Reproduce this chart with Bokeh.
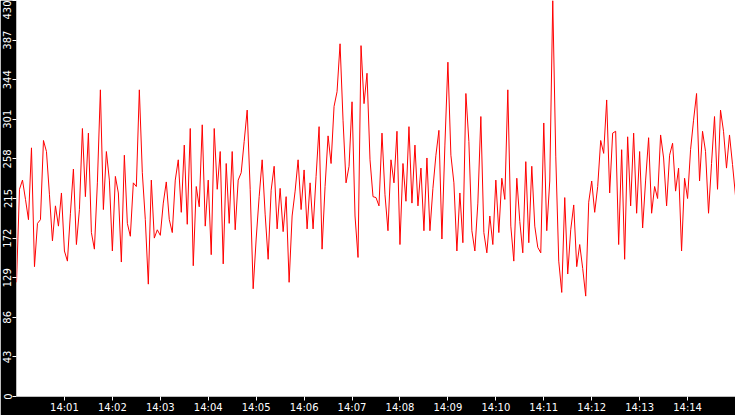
import pandas as pd
from bokeh.plotting import figure
from bokeh.models import ColumnDataSource, Range1d, FixedTicker, DatetimeTickFormatter
from bokeh.embed import file_html
from bokeh.resources import INLINE

# values, one every 3.75 s from 14:00:00 to 14:15:00
values = [
    124, 225, 235, 214, 192, 270, 141, 188, 192, 278, 266, 219, 169, 207, 185, 221,
    158, 147, 199, 247, 165, 203, 291, 217, 286, 178, 160, 232, 333, 203, 266, 235,
    158, 239, 221, 146, 262, 188, 174, 232,
    228, 333, 243, 192, 122, 235, 172, 181, 175, 210, 233, 192, 178, 235, 257, 200,
    273, 187, 291, 142, 228, 206, 295, 185, 235, 154, 291, 225, 266, 144, 253, 188,
    266, 181, 235, 243, 277, 311, 225, 117,
    171, 217, 257, 198, 149, 224, 250, 182, 226, 179, 217, 124, 196, 223, 257, 203,
    246, 182, 232, 182, 239, 293, 160, 228, 283, 253, 315, 331, 383, 300, 232, 250,
    320, 196, 151, 381, 318, 351, 257, 217,
    216, 207, 286, 219, 180, 257, 232, 288, 165, 253, 212, 293, 210, 273, 207, 248,
    180, 259, 180, 226, 262, 289, 171, 273, 363, 262, 232, 158, 221, 167, 329, 277,
    180, 158, 210, 304, 178, 156, 196, 165,
    235, 178, 237, 214, 333, 185, 147, 237, 190, 156, 255, 167, 250, 185, 162, 156,
    297, 180, 234, 430, 261, 147, 113, 216, 133, 181, 208, 141, 165, 139, 109, 211,
    234, 200, 228, 278, 264, 322, 221, 286,
    288, 165, 268, 149, 282, 207, 286, 199, 266, 183, 235, 281, 199, 228, 215, 284,
    259, 207, 262, 275, 223, 248, 158, 237, 215, 268, 300, 329, 234, 288, 266, 199,
    253, 304, 225, 311, 288, 248, 284, 252, 218,
]
times = pd.date_range("2024-01-01 14:00:00", periods=len(values), freq="3750ms")

y_ticks = [0, 43, 86, 129, 172, 215, 258, 301, 344, 387, 430]
x_ticks = pd.date_range("2024-01-01 14:01:00", "2024-01-01 14:14:00", freq="1min")

source = ColumnDataSource(data=dict(time=times, value=values))

p = figure(width=735, height=415,
           x_axis_type="datetime",
           x_range=Range1d(times[0], times[-1]),
           y_range=Range1d(0, 430),
           output_backend="svg",
           toolbar_location=None,
           min_border_left=0, min_border_right=0,
           min_border_top=0, min_border_bottom=0)

p.line('time', 'value', source=source, color='red', line_width=1)

p.background_fill_color = "white"
p.border_fill_color = "black"
p.outline_line_color = None
p.grid.visible = False

p.yaxis.ticker = FixedTicker(ticks=y_ticks)
p.yaxis.major_label_orientation = "vertical"
p.xaxis.ticker = FixedTicker(ticks=[t.value // 10**6 for t in x_ticks])
p.xaxis.formatter = DatetimeTickFormatter(minutes="%H:%M", hours="%H:%M",
                                          seconds="%H:%M", minsec="%H:%M")

for ax in (p.xaxis, p.yaxis):
    ax.axis_line_color = None
    ax.major_tick_line_color = "white"
    ax.major_tick_in = 0
    ax.major_tick_out = 4
    ax.minor_tick_line_color = None
    ax.major_label_text_color = "white"
    ax.major_label_text_font = "DejaVu Sans"
    ax.major_label_text_font_size = "10px"
    ax.major_label_standoff = 1

open("out.html", "w").write(file_html(p, INLINE))
